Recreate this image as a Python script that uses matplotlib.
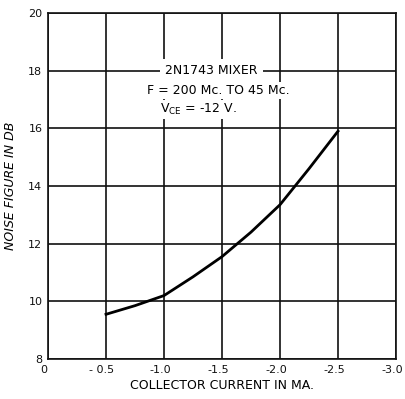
import matplotlib
matplotlib.use("Agg")
import matplotlib.pyplot as plt
import matplotlib.transforms as mtransforms

current = [-0.5, -0.75, -1.0, -1.25, -1.5, -1.75, -2.0, -2.25, -2.5]
noise_db = [9.55, 9.85, 10.2, 10.85, 11.55, 12.4, 13.35, 14.6, 15.9]
x_ticks = [0, -0.5, -1.0, -1.5, -2.0, -2.5, -3.0]
x_labels = ["0", "- 0.5", "-1.0", "-1.5", "-2.0", "-2.5", "-3.0"]
y_ticks = [8, 10, 12, 14, 16, 18, 20]

plt.rcParams['font.family'] = ['DejaVu Sans']
fig = plt.figure(figsize=(4.06, 3.99), dpi=100)
ax = fig.add_axes([48/406, 40/399, 348/406, 346/399])
ax.set_xlim(0, -3.0)
ax.set_ylim(8, 20)
ax.set_xticks(x_ticks)
ax.set_xticklabels(x_labels, fontsize=8)
ax.set_yticks(y_ticks)
ax.set_yticklabels([str(v) for v in y_ticks], fontsize=8)
ax.tick_params(length=0, pad=4, colors='#111111')
shift = mtransforms.ScaledTranslation(-4/100, 0, fig.dpi_scale_trans)
for lbl in ax.get_xticklabels():
    lbl.set_transform(lbl.get_transform() + shift)
ax.grid(True, color='#111111', linewidth=1.2)
for s in ax.spines.values():
    s.set_color('#111111')
    s.set_linewidth(1.2)
ax.plot(current, noise_db, color='#000000', linewidth=2.0, zorder=3)

ax.text(-1.41, 18, "2N1743 MIXER", ha='center', va='center', fontsize=9,
        bbox=dict(facecolor='white', edgecolor='none', pad=4), zorder=4)
ax.text(-1.47, 17.32, "F = 200 Mc. TO 45 Mc.", ha='center', va='center', fontsize=9,
        bbox=dict(facecolor='white', edgecolor='none', pad=1.5), zorder=4)
ax.text(-1.3, 16.65, "V$_{\\mathregular{CE}}$ = -12 V.", ha='center', va='center', fontsize=9,
        bbox=dict(facecolor='white', edgecolor='none', pad=1.5), zorder=4)

ax.set_xlabel("COLLECTOR CURRENT IN MA.", fontsize=9, labelpad=3)
ax.set_ylabel("NOISE FIGURE IN DB", fontsize=9, style='italic', labelpad=8)

fig.savefig("out.png", dpi=100)
